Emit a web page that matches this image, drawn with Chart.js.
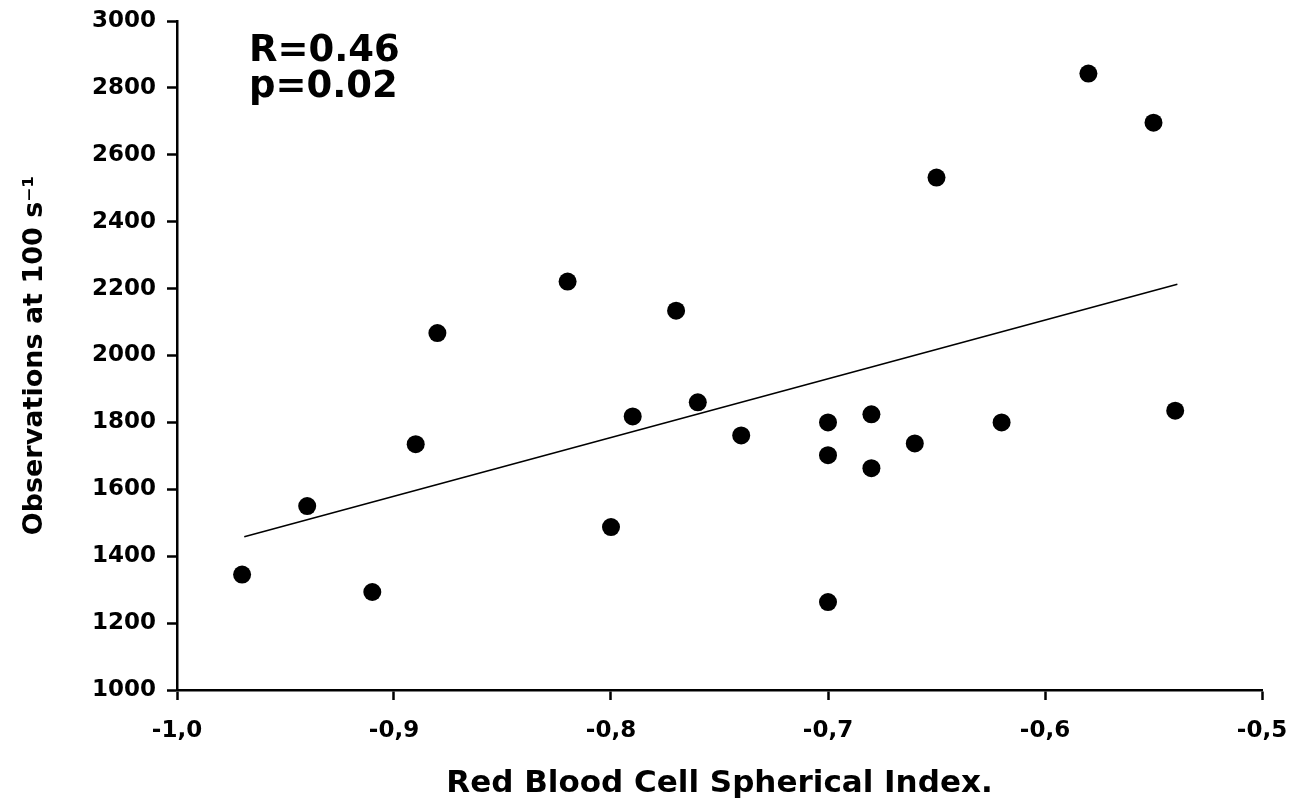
<!DOCTYPE html>
<html>
<head>
<meta charset="utf-8">
<script src="https://cdn.jsdelivr.net/npm/chart.js@4/dist/chart.umd.min.js"></script>
<style>
html,body{margin:0;padding:0;background:#fff;}
#wrap{width:1293px;height:799px;position:relative;}
</style>
</head>
<body>
<div id="wrap"><canvas id="c"></canvas></div>
<script>
const rbcIndex = [-0.97,-0.94,-0.91,-0.89,-0.88,-0.82,-0.80,-0.79,-0.77,-0.76,-0.74,-0.70,-0.70,-0.70,-0.68,-0.68,-0.66,-0.65,-0.62,-0.58,-0.55,-0.54];
const observations = [1345,1550,1293,1735,2067,2221,1487,1818,2134,1860,1761,1800,1702,1263,1824,1663,1737,2532,1800,2843,2696,1835];
const fitX = [-0.969,-0.539];
const fitY = [1458,2213];
const xTitle = 'Red Blood Cell Spherical Index.';
const yTitle = 'Observations at 100 s\u207B\u00B9';
const statLines = ['R=0.46','p=0.02'];

const FONT = "'DejaVu Sans', Verdana, sans-serif";

const annot = {
  id:'annot',
  afterDraw(chart){
    const ctx = chart.ctx;
    ctx.save();
    ctx.fillStyle = '#000';
    ctx.font = 'bold 37px ' + FONT;
    ctx.textBaseline = 'alphabetic';
    ctx.textAlign = 'left';
    ctx.fillText(statLines[0], 249, 61);
    ctx.fillText(statLines[1], 249, 97);
    ctx.restore();
  }
};

new Chart(document.getElementById('c'), {
  data:{
    datasets:[
      {type:'scatter', data: rbcIndex.map((x,i)=>({x:x,y:observations[i]})),
       backgroundColor:'#000', borderColor:'#000', pointRadius:9, pointBorderWidth:0, pointHoverRadius:9},
      {type:'line', data: fitX.map((x,i)=>({x:x,y:fitY[i]})),
       borderColor:'#000', borderWidth:1.6, pointRadius:0, fill:false}
    ]
  },
  options:{
    responsive:true, maintainAspectRatio:false, animation:false,
    layout:{padding:{left:0,right:31,top:21,bottom:0}},
    plugins:{legend:{display:false}, tooltip:{enabled:false}},
    scales:{
      x:{type:'linear', min:-1, max:-0.5,
        afterFit(s){ s.height = 109; s.paddingRight = 0; s.paddingLeft = 0; },
        ticks:{stepSize:0.1, color:'#000', padding:17, font:{family:FONT, weight:'bold', size:23},
          callback:v=>v.toFixed(1).replace('.',',')},
        grid:{drawOnChartArea:false, tickLength:10, tickWidth:2.5, color:'#000'},
        border:{display:true, color:'#000', width:2.5},
        title:{display:true, text:xTitle, color:'#000', font:{family:FONT, weight:'bold', size:31, lineHeight:1}, padding:{top:0,bottom:0}}
      },
      y:{type:'linear', min:1000, max:3000,
        afterFit(s){ s.width = 177; s.paddingTop = 0; s.paddingBottom = 0; },
        ticks:{stepSize:200, color:'#000', padding:11, font:{family:FONT, weight:'bold', size:23},
          callback:v=>String(v)},
        grid:{drawOnChartArea:false, tickLength:10, tickWidth:2.5, color:'#000'},
        border:{display:true, color:'#000', width:2.5},
        title:{display:true, text:yTitle, color:'#000', font:{family:FONT, weight:'bold', size:27}, padding:{top:19,bottom:0}}
      }
    }
  },
  plugins:[annot]
});
</script>
</body>
</html>
